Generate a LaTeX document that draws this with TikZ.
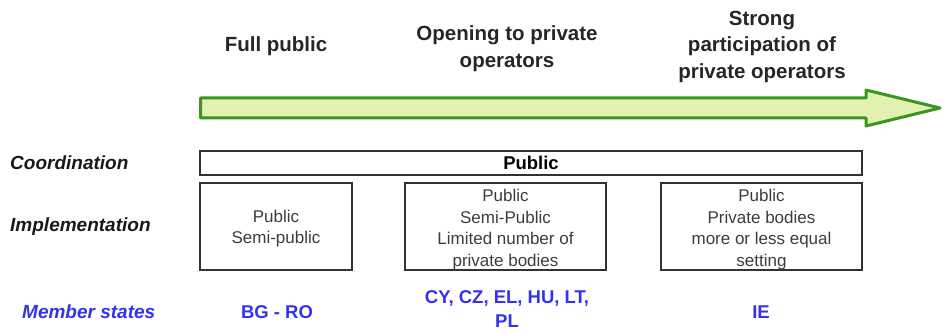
\documentclass[tikz,border=0pt]{standalone}
\usepackage{fontspec}
\setmainfont{Liberation Sans}
\definecolor{arrowgreen}{RGB}{60,150,30}
\definecolor{arrowfill}{RGB}{226,240,178}
\definecolor{boxline}{RGB}{50,50,50}
\definecolor{txtgrey}{RGB}{60,60,60}
\definecolor{msblue}{RGB}{50,50,240}
\begin{document}
\begin{tikzpicture}[x=1pt,y=-1pt,
  header/.style={font=\bfseries\fontsize{20.5}{26.5}\selectfont, text=black!85, align=center, inner sep=0},
  rowlabel/.style={font=\bfseries\itshape\fontsize{19}{22}\selectfont, anchor=west, inner sep=0, text=black!90},
  stagebox/.style={draw=boxline, line width=1.5pt, minimum height=87pt, inner sep=0},
  stagetext/.style={inner sep=0, align=center, font=\fontsize{17}{21.5}\selectfont, text=txtgrey},
  ms/.style={font=\bfseries\fontsize{18.5}{24}\selectfont, text=msblue, align=center, inner sep=0},
  bigarrow/.style={draw=arrowgreen, line width=3pt, fill=arrowfill, line join=round}]
\useasboundingbox (0,0) rectangle (944,331);

% headers
\node[header] (h1) at (276,46) {Full public};
\node[header] (h2) at (507,48.5) {Opening to private\\operators};
\node[header] (h3) at (762,46.5) {Strong\\participation of\\private operators};

% big arrow
\coordinate (a0) at (200.5,98);
\coordinate (tip) at (940,108);
\draw[bigarrow] (a0) -- (866,98) -- (866,90) -- (tip) -- (866,126) -- (866,118) -- (200.5,118) -- cycle;

% row labels
\node[rowlabel] (lc) at (10,163) {Coordination};
\node[rowlabel] (li) at (10,227) {Implementation};
\node[rowlabel, text=msblue, font=\bfseries\itshape\fontsize{19}{22}\selectfont] (lm) at (22,312) {Member states};

% coordination box
\node[draw=boxline, line width=1.5pt, minimum width=662pt, minimum height=24pt, inner sep=0,
      font=\bfseries\fontsize{18.5}{22}\selectfont] (coord) at (531,163) {Public};

% implementation boxes
\node[stagebox, minimum width=152pt] (b1) at (276,226.5) {};
\node[stagebox, minimum width=201pt] (b2) at (505.5,226.5) {};
\node[stagebox, minimum width=201pt] (b3) at (761.5,226.5) {};
\node[stagetext] (t1) at ([yshift=-2pt]b1.center) {Public\\Semi-public};
\node[stagetext] (t2) at ([yshift=-3pt]b2.center) {Public\\Semi-Public\\Limited number of\\private bodies};
\node[stagetext] (t3) at ([yshift=-3pt]b3.center) {Public\\Private bodies\\more or less equal\\setting};

% member states
\node[ms] (m1) at (277,312) {BG - RO};
\node[ms] (m2) at (507,309.5) {CY, CZ, EL, HU, LT,\\PL};
\node[ms] (m3) at (761,312) {IE};
\end{tikzpicture}
\end{document}
